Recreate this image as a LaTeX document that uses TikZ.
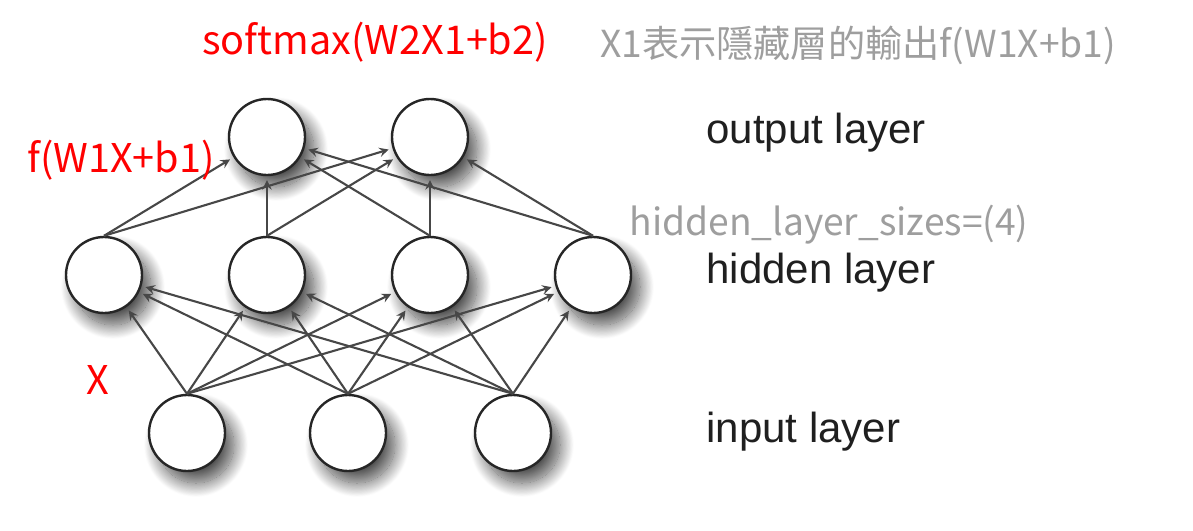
\documentclass[tikz,border=0pt]{standalone}
\usepackage{fontspec}
\setmainfont{Liberation Sans}
\newfontfamily\cjkfont{Noto Sans CJK TC}
\usetikzlibrary{arrows,shadows.blur}
\tikzset{
         neuron/.style={circle,draw=black!85,line width=1.2pt,fill=white,minimum size=38pt,inner sep=0pt,
          blur shadow={shadow xshift=4.5pt,shadow yshift=-6pt,shadow blur radius=7pt,shadow blur steps=25,shadow opacity=70}},
         link/.style={-stealth,draw=black!72,line width=1.05pt,shorten >=2pt},
         layerlabel/.style={font=\fontsize{21}{21}\selectfont,text=black!88,anchor=west,inner sep=0pt},
         redlabel/.style={font=\cjkfont\fontsize{19.8}{20}\selectfont,text=red,inner sep=0pt},
         graylabel/.style={font=\cjkfont\fontsize{18.6}{19}\selectfont,text=black!38,inner sep=0pt}
        }

\begin{document}
\begin{tikzpicture}[x=0.5pt,y=-0.5pt]
\useasboundingbox(0,0)rectangle(1193,530);
%neurons
\node[neuron](o1)at(267,137){};
\node[neuron](o2)at(430,137){};
\node[neuron](h1)at(104,275){};
\node[neuron](h2)at(267,275){};
\node[neuron](h3)at(430,275){};
\node[neuron](h4)at(593,275){};
\node[neuron](i1)at(187,433){};
\node[neuron](i2)at(348,433){};
\node[neuron](i3)at(513,433){};
%hidden to output
\draw[link](h1.north)--(o1); \draw[link](h1.north)--(o2);
\draw[link](h2.north)--(o1); \draw[link](h2.north)--(o2);
\draw[link](h3.north)--(o1); \draw[link](h3.north)--(o2);
\draw[link](h4.north)--(o1); \draw[link](h4.north)--(o2);
%input to hidden
\draw[link](i1.north)--(h1); \draw[link](i1.north)--(h2);
\draw[link](i1.north)--(h3); \draw[link](i1.north)--(h4);
\draw[link](i2.north)--(h1); \draw[link](i2.north)--(h2);
\draw[link](i2.north)--(h3); \draw[link](i2.north)--(h4);
\draw[link](i3.north)--(h1); \draw[link](i3.north)--(h2);
\draw[link](i3.north)--(h3); \draw[link](i3.north)--(h4);
%labels
\node[layerlabel](outl)at(706,133){output layer};
\node[layerlabel](hidl)at(706,273){hidden layer};
\node[layerlabel](inl)at(706,432){input layer};
\node[redlabel](soft)at(375,42){softmax(W2X1+b2)};
\node[redlabel](fw)at(121,160){f(W1X+b1)};
\node[redlabel](xin)at(98,380){X};
\node[graylabel](note)at(858,45){X1表示隱藏層的輸出f(W1X+b1)};
\node[graylabel](size)at(829,225){hidden\_layer\_sizes=(4)};

\end{tikzpicture}
\end{document}
